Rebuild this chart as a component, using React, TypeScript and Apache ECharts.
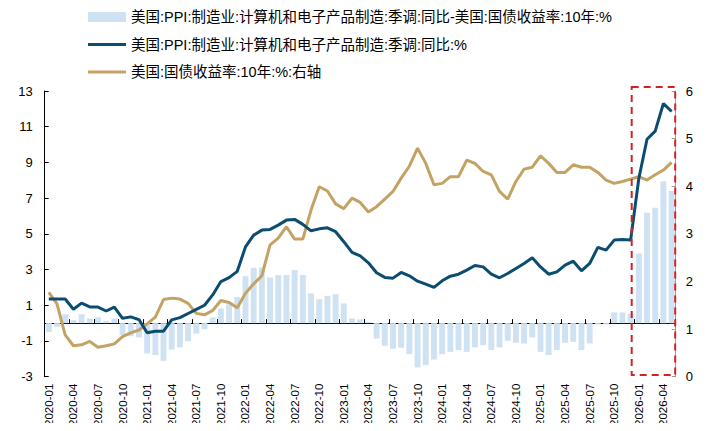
import React, { useEffect, useRef } from "react";
import * as echarts from "echarts";

const months: string[] = (() => {
  const out: string[] = [];
  for (let y = 2020; y <= 2026; y++) {
    for (let m = 1; m <= 12; m++) {
      if (y === 2026 && m > 5) break;
      out.push(`${y}-${String(m).padStart(2, "0")}`);
    }
  }
  return out;
})();

const spreadName = "美国:PPI:制造业:计算机和电子产品制造:季调:同比-美国:国债收益率:10年:%";
const ppiName = "美国:PPI:制造业:计算机和电子产品制造:季调:同比:%";
const yieldName = "美国:国债收益率:10年:%:右轴";

// PPI YoY (left axis)
const ppi: number[] = [
  1.35, 1.35, 1.35, 0.78, 1.12, 0.91, 0.9, 0.68, 0.9, 0.27, 0.35, 0.2,
  -0.54, -0.45, -0.45, 0.18, 0.31, 0.54, 0.77, 1.0, 1.58, 2.33, 2.55, 2.9,
  4.27, 4.93, 5.21, 5.25, 5.49, 5.77, 5.81, 5.53, 5.17, 5.28, 5.34, 5.12,
  4.56, 3.96, 3.77, 3.38, 2.82, 2.56, 2.52, 2.84, 2.65, 2.35, 2.18, 2.0,
  2.37, 2.63, 2.74, 2.97, 3.23, 3.15, 2.74, 2.54, 2.78, 3.06, 3.34, 3.66,
  3.15, 2.74, 2.87, 3.25, 3.47, 2.93, 3.34, 4.24, 4.09, 4.65, 4.69, 4.65,
  8.1, 10.3, 10.75, 12.3, 11.85,
];

// US 10Y yield (right axis)
const yield10: number[] = [
  1.77, 1.53, 0.88, 0.65, 0.67, 0.74, 0.62, 0.65, 0.69, 0.84, 0.92, 0.98,
  1.11, 1.25, 1.62, 1.65, 1.63, 1.54, 1.33, 1.3, 1.39, 1.6, 1.56, 1.45,
  1.75, 1.95, 2.12, 2.77, 2.91, 3.15, 2.89, 2.89, 3.5, 3.99, 3.9, 3.63,
  3.53, 3.75, 3.66, 3.46, 3.57, 3.73, 3.89, 4.17, 4.42, 4.8, 4.48, 4.03,
  4.06, 4.2, 4.2, 4.55, 4.48, 4.31, 4.24, 3.89, 3.73, 4.1, 4.36, 4.4,
  4.64, 4.48, 4.29, 4.29, 4.45, 4.4, 4.4, 4.29, 4.13, 4.06, 4.1, 4.15,
  4.2, 4.13, 4.24, 4.34, 4.5,
];

// Spread PPI - 10Y (left axis, bars)
const spread: number[] = [
  -0.49, -0.2, 0.5, 0.17, 0.5, 0.26, 0.32, 0.11, 0.26, -0.67, -0.73, -0.8,
  -1.7, -1.79, -2.11, -1.48, -1.36, -1.01, -0.58, -0.34, 0.32, 0.82, 1.06, 1.47,
  2.63, 3.1, 3.12, 2.56, 2.69, 2.69, 2.97, 2.69, 1.66, 1.34, 1.53, 1.62,
  1.1, 0.26, 0.21, 0.07, -0.86, -1.27, -1.44, -1.38, -1.74, -2.48, -2.35, -2.04,
  -1.74, -1.61, -1.51, -1.61, -1.36, -1.23, -1.51, -1.36, -0.99, -1.1, -1.14, -0.8,
  -1.61, -1.79, -1.51, -1.1, -1.05, -1.51, -1.14, -0.06, -0.06, 0.6, 0.6, 0.54,
  3.9, 6.18, 6.46, 7.93, 7.4,
];

const FONT = "'Liberation Sans', Arial, 'Noto Sans CJK SC', sans-serif";
const LINE_ICON = "path://M0,0 L40,0 L40,3.2 L0,3.2 Z";

export default function App() {
  const ref = useRef<HTMLDivElement>(null);
  useEffect(() => {
    if (!ref.current) return;
    const chart = echarts.init(ref.current, undefined, { renderer: "svg" });
    chart.setOption({
      animation: false,
      textStyle: { fontFamily: FONT },
      grid: { left: 44.7, right: 32.3, top: 91, bottom: 54.3, containLabel: false },
      legend: {
        orient: "vertical",
        left: 83,
        top: 4,
        itemWidth: 38,
        itemHeight: 10,
        itemGap: 11.5,
        textStyle: { fontSize: 14.5, color: "#000", fontFamily: FONT, lineHeight: 16 },
        data: [
          { name: spreadName, icon: "rect" },
          { name: ppiName, icon: LINE_ICON },
          { name: yieldName, icon: LINE_ICON },
        ],
      },
      xAxis: [
        {
          type: "category",
          data: months,
          position: "bottom",
          boundaryGap: true,
          axisLine: { show: false, onZero: false },
          axisTick: { show: false },
          axisLabel: {
            rotate: 90,
            interval: 2,
            fontSize: 11.5,
            color: "#000",
            margin: 7,
            fontFamily: FONT,
          },
          splitLine: { show: false },
        },
        {
          type: "category",
          data: months,
          position: "bottom",
          boundaryGap: true,
          axisLine: { show: true, onZero: true, onZeroAxisIndex: 0, lineStyle: { color: "#000", width: 1 } },
          axisTick: { show: true, inside: true, interval: 2, length: 4, lineStyle: { color: "#000" } },
          axisLabel: { show: false },
          splitLine: { show: false },
        },
      ],
      yAxis: [
        {
          type: "value",
          position: "left",
          min: -3,
          max: 13,
          interval: 2,
          axisLine: { show: true, lineStyle: { color: "#000", width: 1 } },
          axisTick: { show: true, inside: true, length: 4, lineStyle: { color: "#000" } },
          axisLabel: { fontSize: 13, color: "#000", margin: 12, fontFamily: FONT },
          splitLine: { show: false },
        },
        {
          type: "value",
          position: "right",
          min: 0,
          max: 6,
          interval: 1,
          axisLine: { show: true, lineStyle: { color: "#9a9a9a", width: 1 } },
          axisTick: { show: true, inside: true, length: 4, lineStyle: { color: "#9a9a9a" } },
          axisLabel: { fontSize: 13, color: "#000", margin: 10, fontFamily: FONT },
          splitLine: { show: false },
        },
      ],
      series: [
        {
          name: spreadName,
          type: "bar",
          xAxisIndex: 0,
          yAxisIndex: 0,
          data: spread,
          barWidth: "72%",
          itemStyle: { color: "#cfe2f3" },
        },
        {
          name: yieldName,
          type: "line",
          xAxisIndex: 0,
          yAxisIndex: 1,
          data: yield10,
          symbol: "none",
          lineStyle: { color: "#c4a263", width: 3 },
          itemStyle: { color: "#c4a263" },
        },
        {
          name: ppiName,
          type: "line",
          xAxisIndex: 0,
          yAxisIndex: 0,
          data: ppi,
          symbol: "none",
          lineStyle: { color: "#0b4d70", width: 3 },
          itemStyle: { color: "#0b4d70" },
        },
      ],
      graphic: [
        {
          type: "rect",
          silent: true,
          z: 100,
          shape: { x: 631.7, y: 87, width: 43.5, height: 288 },
          style: { fill: "none", stroke: "#d42222", lineWidth: 2, lineDash: [7, 5] },
        },
      ],
    });
    return () => chart.dispose();
  }, []);
  return <div ref={ref} style={{ width: 708, height: 431, margin: -8 }} />;
}
